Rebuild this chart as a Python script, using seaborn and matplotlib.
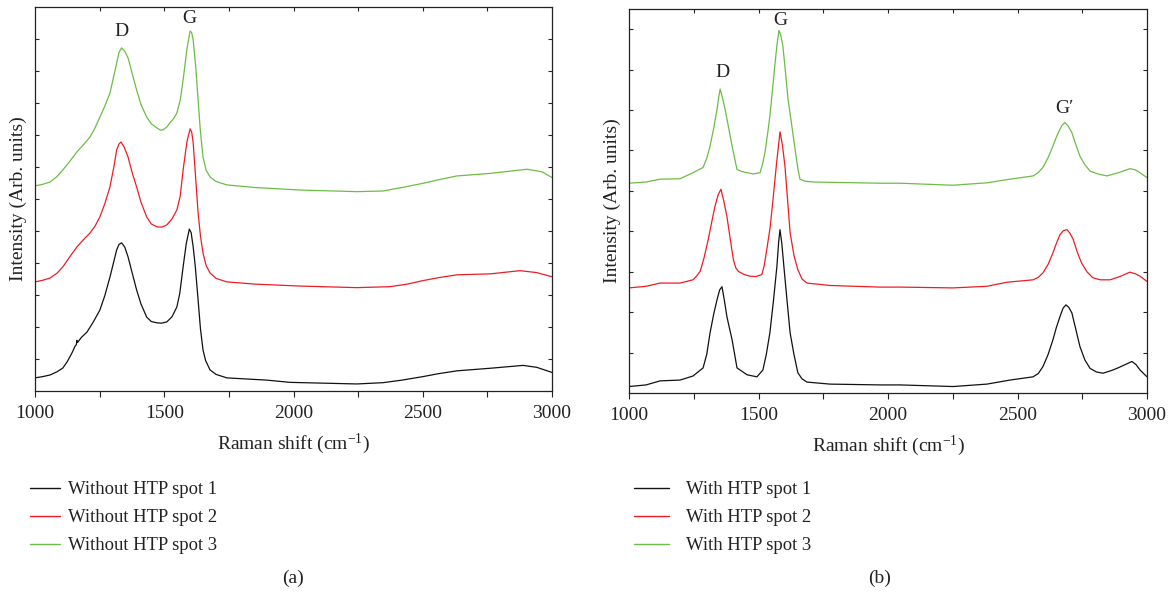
import numpy as np
import pandas as pd
import matplotlib
matplotlib.use("Agg")
import matplotlib.pyplot as plt
from matplotlib.lines import Line2D
import seaborn as sns

# ---- Raman spectra, without HTP treatment (panel a) ----
shift_a1 = [1000, 1030, 1058, 1085, 1108, 1125, 1143, 1155, 1160, 1162, 1165, 1180, 1201, 1225,
            1251, 1270, 1290, 1305, 1316, 1325, 1335, 1347, 1360, 1375, 1393, 1410, 1432, 1450,
            1472, 1490, 1510, 1530, 1549, 1560, 1573, 1585, 1597, 1604, 1612, 1620, 1631, 1640,
            1650, 1660, 1677, 1700, 1742, 1897, 1986, 2245, 2346, 2420, 2501, 2560, 2632, 2760,
            2888, 2941, 3000]
int_a1 = [0.41, 0.45, 0.50, 0.60, 0.72, 0.92, 1.19, 1.40, 1.45, 1.58, 1.52, 1.68, 1.84, 2.15,
          2.53, 2.98, 3.56, 4.05, 4.41, 4.58, 4.63, 4.50, 4.19, 3.72, 3.16, 2.72, 2.31, 2.17,
          2.13, 2.12, 2.16, 2.32, 2.63, 3.05, 3.88, 4.60, 5.06, 4.95, 4.50, 3.90, 2.84, 1.95,
          1.28, 0.95, 0.66, 0.52, 0.41, 0.34, 0.27, 0.22, 0.26, 0.34, 0.45, 0.54, 0.63, 0.71,
          0.80, 0.74, 0.58]

shift_a2 = [1000, 1030, 1058, 1085, 1108, 1135, 1162, 1190, 1213, 1232, 1251, 1270, 1290, 1305,
            1316, 1325, 1333, 1345, 1360, 1375, 1393, 1410, 1432, 1450, 1472, 1490, 1510, 1530,
            1549, 1562, 1573, 1588, 1600, 1606, 1612, 1622, 1631, 1640, 1650, 1662, 1677, 1700,
            1742, 1850, 2025, 2245, 2373, 2440, 2501, 2560, 2632, 2760, 2876, 2941, 3000]
int_a2 = [3.41, 3.46, 3.53, 3.68, 3.88, 4.20, 4.50, 4.75, 4.94, 5.15, 5.44, 5.85, 6.38, 7.00,
          7.53, 7.72, 7.78, 7.62, 7.31, 6.85, 6.38, 5.90, 5.44, 5.22, 5.13, 5.12, 5.19, 5.38,
          5.66, 6.10, 6.91, 7.80, 8.19, 8.10, 7.75, 6.60, 5.56, 4.85, 4.31, 3.92, 3.69, 3.52,
          3.41, 3.34, 3.28, 3.23, 3.26, 3.34, 3.45, 3.54, 3.63, 3.66, 3.76, 3.70, 3.57]

shift_a3 = [1000, 1030, 1058, 1085, 1108, 1135, 1162, 1190, 1213, 1232, 1251, 1270, 1290, 1305,
            1316, 1325, 1335, 1347, 1360, 1375, 1393, 1410, 1432, 1450, 1472, 1485, 1495, 1510,
            1522, 1537, 1549, 1562, 1573, 1588, 1600, 1606, 1612, 1622, 1631, 1640, 1650, 1662,
            1677, 1700, 1742, 1850, 2025, 2245, 2346, 2420, 2501, 2560, 2632, 2760, 2903, 2961,
            3000]
int_a3 = [6.41, 6.46, 6.53, 6.70, 6.91, 7.18, 7.47, 7.72, 7.94, 8.22, 8.56, 8.90, 9.31, 9.85,
          10.25, 10.58, 10.72, 10.62, 10.41, 9.95, 9.41, 8.95, 8.56, 8.35, 8.22, 8.15, 8.16, 8.25,
          8.38, 8.52, 8.69, 9.10, 9.72, 10.70, 11.25, 11.20, 10.97, 10.10, 9.09, 8.10, 7.31, 6.90,
          6.69, 6.55, 6.44, 6.36, 6.28, 6.23, 6.25, 6.36, 6.49, 6.60, 6.72, 6.80, 6.93, 6.85,
          6.67]

# ---- Raman spectra, with HTP treatment (panel b) ----
shift_b1 = [1000, 1066, 1120, 1197, 1247, 1286, 1300, 1313, 1327, 1340, 1350, 1359, 1368, 1378,
            1388, 1398, 1408, 1417, 1456, 1494, 1517, 1530, 1544, 1558, 1571, 1578, 1583, 1590,
            1598, 1610, 1622, 1637, 1652, 1668, 1687, 1776, 1969, 2046, 2251, 2382, 2471, 2560,
            2580, 2598, 2618, 2637, 2650, 2664, 2676, 2687, 2698, 2710, 2725, 2741, 2760, 2780,
            2805, 2830, 2860, 2884, 2915, 2942, 2958, 2973, 3000]
int_b1 = [0.16, 0.20, 0.30, 0.32, 0.42, 0.62, 0.95, 1.49, 1.95, 2.31, 2.55, 2.63, 2.30, 1.89,
          1.60, 1.32, 0.95, 0.62, 0.45, 0.40, 0.57, 0.95, 1.49, 2.30, 3.13, 3.75, 4.04, 3.70,
          3.13, 2.30, 1.49, 0.95, 0.50, 0.35, 0.27, 0.22, 0.20, 0.20, 0.16, 0.22, 0.32, 0.40,
          0.48, 0.65, 0.95, 1.32, 1.62, 1.89, 2.10, 2.18, 2.12, 1.98, 1.58, 1.15, 0.82, 0.61,
          0.52, 0.49, 0.55, 0.61, 0.70, 0.78, 0.70, 0.57, 0.40]

shift_b2 = [1000, 1066, 1120, 1197, 1247, 1262, 1275, 1290, 1306, 1320, 1332, 1344, 1355, 1366,
            1378, 1390, 1403, 1412, 1422, 1445, 1467, 1490, 1513, 1522, 1532, 1545, 1556, 1570,
            1583, 1592, 1602, 1612, 1622, 1637, 1652, 1668, 1687, 1776, 1969, 2046, 2251, 2382,
            2459, 2560, 2580, 2598, 2618, 2637, 2650, 2664, 2678, 2691, 2703, 2715, 2730, 2747,
            2768, 2791, 2820, 2857, 2895, 2934, 2955, 2973, 3000]
int_b2 = [2.60, 2.64, 2.72, 2.72, 2.80, 2.90, 3.01, 3.35, 3.80, 4.25, 4.62, 4.90, 5.04, 4.75,
          4.37, 3.85, 3.30, 3.10, 3.01, 2.93, 2.89, 2.88, 2.93, 3.15, 3.55, 4.10, 4.79, 5.70,
          6.46, 6.15, 5.62, 4.80, 3.97, 3.40, 3.05, 2.82, 2.72, 2.66, 2.62, 2.62, 2.60, 2.64,
          2.74, 2.80, 2.86, 2.97, 3.18, 3.47, 3.70, 3.92, 4.02, 4.04, 3.95, 3.80, 3.50, 3.22,
          3.00, 2.85, 2.80, 2.80, 2.88, 2.99, 2.95, 2.89, 2.76]

shift_b3 = [1000, 1066, 1120, 1197, 1247, 1268, 1286, 1300, 1313, 1327, 1340, 1346, 1352, 1361,
            1371, 1385, 1398, 1408, 1417, 1435, 1456, 1480, 1506, 1515, 1525, 1535, 1544, 1554,
            1563, 1571, 1579, 1586, 1594, 1604, 1614, 1630, 1645, 1652, 1660, 1680, 1710, 1969,
            2046, 2251, 2382, 2471, 2560, 2580, 2598, 2618, 2637, 2650, 2664, 2673, 2683, 2696,
            2710, 2725, 2741, 2760, 2780, 2810, 2845, 2890, 2934, 2955, 2973, 3000]
int_b3 = [5.19, 5.22, 5.29, 5.30, 5.45, 5.52, 5.58, 5.80, 6.11, 6.55, 7.02, 7.30, 7.52, 7.30,
          7.02, 6.55, 6.11, 5.80, 5.53, 5.48, 5.45, 5.42, 5.45, 5.65, 5.95, 6.40, 6.86, 7.50,
          8.10, 8.60, 8.97, 8.85, 8.59, 7.95, 7.27, 6.55, 5.86, 5.55, 5.29, 5.24, 5.22, 5.19,
          5.19, 5.14, 5.20, 5.29, 5.37, 5.45, 5.58, 5.82, 6.11, 6.33, 6.53, 6.63, 6.69, 6.60,
          6.44, 6.15, 5.86, 5.65, 5.49, 5.42, 5.37, 5.45, 5.55, 5.52, 5.45, 5.33]

labels_a = ["Without HTP spot 1", "Without HTP spot 2", "Without HTP spot 3"]
labels_b = ["With HTP spot 1", "With HTP spot 2", "With HTP spot 3"]

# peak annotations: (text, shift, intensity)
peaks_a = [("D", 1335, 11.22), ("G", 1596, 11.65)]
peaks_b = [("D", 1359, 7.94), ("G", 1583, 9.22), ("G\u2032", 2683, 7.05)]

colors = ["#111111", "#ee1c24", "#6cbd45"]


def long_frame(shifts, intensities, labels):
    parts = [pd.DataFrame({"shift": s, "intensity": v, "spectrum": lab})
             for s, v, lab in zip(shifts, intensities, labels)]
    return pd.concat(parts, ignore_index=True)


df_a = long_frame([shift_a1, shift_a2, shift_a3], [int_a1, int_a2, int_a3], labels_a)
df_b = long_frame([shift_b1, shift_b2, shift_b3], [int_b1, int_b2, int_b3], labels_b)

sns.set_theme(style="ticks")
plt.rcParams["font.family"] = ["Liberation Serif", "DejaVu Serif"]
plt.rcParams["mathtext.fontset"] = "custom"
plt.rcParams["mathtext.rm"] = "Liberation Serif"
plt.rcParams["mathtext.it"] = "Liberation Serif:italic"

W, H = 1170, 597
fig = plt.figure(figsize=(W / 100, H / 100), dpi=100)


def px_axes(x0, y0, x1, y1):
    return fig.add_axes([x0 / W, 1 - y1 / H, (x1 - x0) / W, (y1 - y0) / H])


ax_a = px_axes(35, 7, 552, 391)
ax_b = px_axes(629, 9, 1147, 393)

FS = 14
LEG_FS = 13.4
TXT = "#222222"


def style_axis(ax, df, labels, peaks, ytop):
    sns.lineplot(data=df, x="shift", y="intensity", hue="spectrum", hue_order=labels,
                 palette=colors, linewidth=0.9, sort=False, estimator=None,
                 legend=False, ax=ax)
    ax.set_xlim(1000, 3000)
    ax.set_ylim(0, ytop)
    ax.set_xticks([1000, 1500, 2000, 2500, 3000])
    ax.set_xticks([1250, 1750, 2250, 2750], minor=True)
    ax.set_yticks(np.arange(1, ytop, 1.0))
    ax.set_yticklabels([])
    ax.tick_params(axis="x", which="both", direction="out", length=4, width=0.8,
                   labelsize=FS, colors=TXT, pad=6)
    ax.tick_params(axis="y", which="both", direction="in", length=3, width=0.8,
                   left=True, right=True)
    sec = ax.secondary_xaxis("top")
    sec.set_xticks([1250, 1500, 1750, 2000, 2250, 2500, 2750])
    sec.tick_params(direction="in", length=3, width=0.8, labeltop=False)
    sec.spines["top"].set_visible(False)
    for sp in ax.spines.values():
        sp.set_visible(True)
        sp.set_linewidth(0.9)
        sp.set_color(TXT)
    ax.set_xlabel("Raman shift (cm$^{-1}$)", fontsize=FS, color=TXT, labelpad=7)
    ax.set_ylabel("Intensity (Arb. units)", fontsize=FS, color=TXT, labelpad=2)
    for txt, xs, yv in peaks:
        ax.text(xs, yv, txt, ha="center", va="center", fontsize=FS, color=TXT)


style_axis(ax_a, df_a, labels_a, peaks_a, 12)
style_axis(ax_b, df_b, labels_b, peaks_b, 9.5)


def add_legend(labels, x_px, y_px, handle_len, text_pad):
    handles = [Line2D([], [], color=c, lw=1.0) for c in colors]
    fig.legend(handles, labels, loc="upper left",
               bbox_to_anchor=(x_px / W, 1 - y_px / H), bbox_transform=fig.transFigure,
               frameon=False, fontsize=LEG_FS, handlelength=handle_len, handletextpad=text_pad,
               labelspacing=0.6, borderpad=0, borderaxespad=0, labelcolor=TXT)


add_legend(labels_a, 30, 481, 1.6, 0.45)
add_legend(labels_b, 634, 481, 1.9, 0.88)

fig.text(293 / W, 1 - 578 / H, "(a)", ha="center", va="center", fontsize=FS, color=TXT)
fig.text(880 / W, 1 - 578 / H, "(b)", ha="center", va="center", fontsize=FS, color=TXT)

fig.savefig("out.png", dpi=100)
